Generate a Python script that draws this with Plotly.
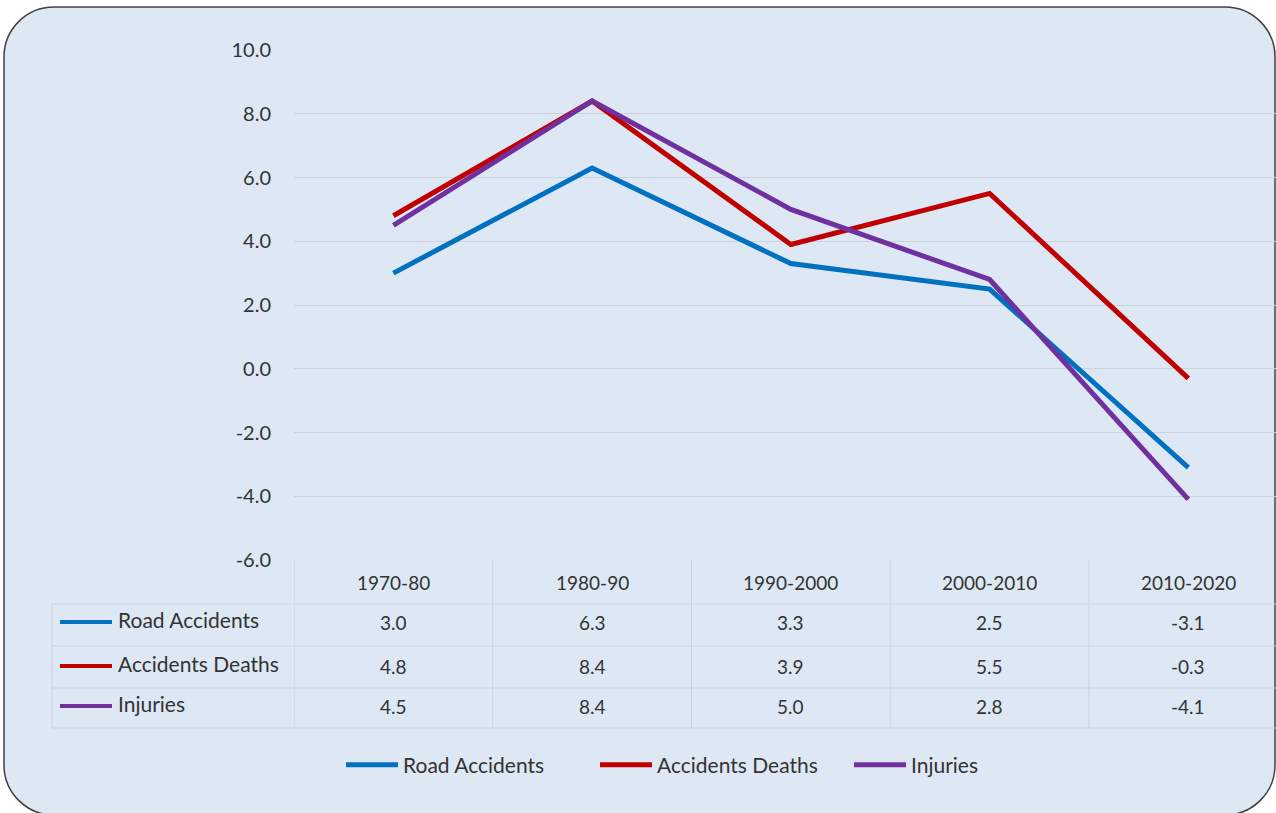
"""Growth of road accidents, deaths and injuries by decade (Excel-style line chart with data table)."""

import plotly.graph_objects as go

W, H = 1276, 813

periods = ["1970-80", "1980-90", "1990-2000", "2000-2010", "2010-2020"]
series_names = ["Road Accidents", "Accidents Deaths", "Injuries"]
road_accidents = [3.0, 6.3, 3.3, 2.5, -3.1]
accident_deaths = [4.8, 8.4, 3.9, 5.5, -0.3]
injuries = [4.5, 8.4, 5.0, 2.8, -4.1]
y_ticks = [-6, -4, -2, 0, 2, 4, 6, 8, 10]

series_values = [road_accidents, accident_deaths, injuries]
colors = ["#0070C0", "#C00000", "#7030A0"]

BG = "#dde8f4"
GRID = "#cbd3de"
TEXT = "#333333"
FONT = "Lato"
NUM_SIZE = 19
NAME_SIZE = 21


def px_x(x):
    return x / W


def px_y(y):
    return (H - y) / H


fig = go.Figure()
for name, vals, col in zip(series_names, series_values, colors):
    fig.add_trace(go.Scatter(x=periods, y=vals, name=name, mode="lines",
                             line=dict(color=col, width=5)))

# rounded chart-area frame
x0, y0, x1, y1 = px_x(4), px_y(7), px_x(1275), px_y(815)
rx, ry = 50 / W, 50 / H
k = 0.5523
frame = (
    f"M {x0 + rx},{y0} L {x1 - rx},{y0} "
    f"C {x1 - rx + k * rx},{y0} {x1},{y0 - ry + k * ry} {x1},{y0 - ry} "
    f"L {x1},{y1 + ry} "
    f"C {x1},{y1 + ry - k * ry} {x1 - rx + k * rx},{y1} {x1 - rx},{y1} "
    f"L {x0 + rx},{y1} "
    f"C {x0 + rx - k * rx},{y1} {x0},{y1 + ry - k * ry} {x0},{y1 + ry} "
    f"L {x0},{y0 - ry} "
    f"C {x0},{y0 - ry + k * ry} {x0 + rx - k * rx},{y0} {x0 + rx},{y0} Z"
)
shapes = [dict(type="path", path=frame, xref="paper", yref="paper", layer="below",
               fillcolor=BG, line=dict(color="#404040", width=1.5))]

# data table grid
row_edges = [604, 646, 688, 728]
for yy in row_edges:
    shapes.append(dict(type="line", xref="paper", yref="paper", x0=px_x(52), x1=1,
                       y0=px_y(yy), y1=px_y(yy), line=dict(color=GRID, width=1)))
for i in range(len(periods)):
    shapes.append(dict(type="line", xref="x", yref="paper", x0=i - 0.5, x1=i - 0.5,
                       y0=px_y(560), y1=px_y(728), line=dict(color=GRID, width=1)))
shapes.append(dict(type="line", xref="paper", yref="paper", x0=px_x(52), x1=px_x(52),
                   y0=px_y(604), y1=px_y(728), line=dict(color=GRID, width=1)))

annotations = []
for p in periods:
    annotations.append(dict(x=p, y=px_y(596), xref="x", yref="paper", text=p,
                            showarrow=False, font=dict(size=NUM_SIZE, color=TEXT, family=FONT)))

row_centers = [622, 666, 706]
for name, vals, col, yc in zip(series_names, series_values, colors, row_centers):
    shapes.append(dict(type="line", xref="paper", yref="paper", x0=px_x(60), x1=px_x(112),
                       y0=px_y(yc), y1=px_y(yc), line=dict(color=col, width=4)))
    annotations.append(dict(x=px_x(116), y=px_y(yc + 12), xref="paper", yref="paper", text=name,
                            xanchor="left", showarrow=False,
                            font=dict(size=NAME_SIZE, color=TEXT, family=FONT)))
    for p, v in zip(periods, vals):
        annotations.append(dict(x=p, y=px_y(yc + 14), xref="x", yref="paper", text=f"{v:.1f}",
                                showarrow=False, font=dict(size=NUM_SIZE, color=TEXT, family=FONT)))

fig.update_layout(
    width=W,
    height=H,
    margin=dict(l=0, r=0, t=0, b=0, autoexpand=False),
    paper_bgcolor="white",
    plot_bgcolor="rgba(0,0,0,0)",
    font=dict(family=FONT, size=NAME_SIZE, color=TEXT),
    shapes=shapes,
    annotations=annotations,
    showlegend=True,
    legend=dict(orientation="h", x=px_x(341), xanchor="left", y=px_y(765), yanchor="middle",
                bgcolor="rgba(0,0,0,0)", font=dict(size=NAME_SIZE, color=TEXT, family=FONT),
                itemwidth=52, entrywidth=187, tracegroupgap=0),
    xaxis=dict(domain=[px_x(294), 1], range=[-0.5, 4.441], showticklabels=False,
               showgrid=False, zeroline=False, showline=False, fixedrange=True,
               automargin=False),
    yaxis=dict(domain=[px_y(560), px_y(50)], range=[-6, 10], tickvals=y_ticks,
               ticktext=[f"{v:.1f}" for v in y_ticks],
               showgrid=True, gridcolor=GRID, gridwidth=1,
               zeroline=False, showline=False, ticklabelstandoff=22, automargin=False,
               tickfont=dict(size=20, color=TEXT, family=FONT)),
)

fig.write_html(
    "out.html",
    config={"displayModeBar": False},
    post_script=(
        "document.documentElement.style.overflow='hidden';"
        "document.body.style.margin='0';document.body.style.overflow='hidden';"
        "var d=document.getElementById('{plot_id}');"
        "d.style.position='fixed';d.style.top='0';d.style.left='0';"
    ),
)
